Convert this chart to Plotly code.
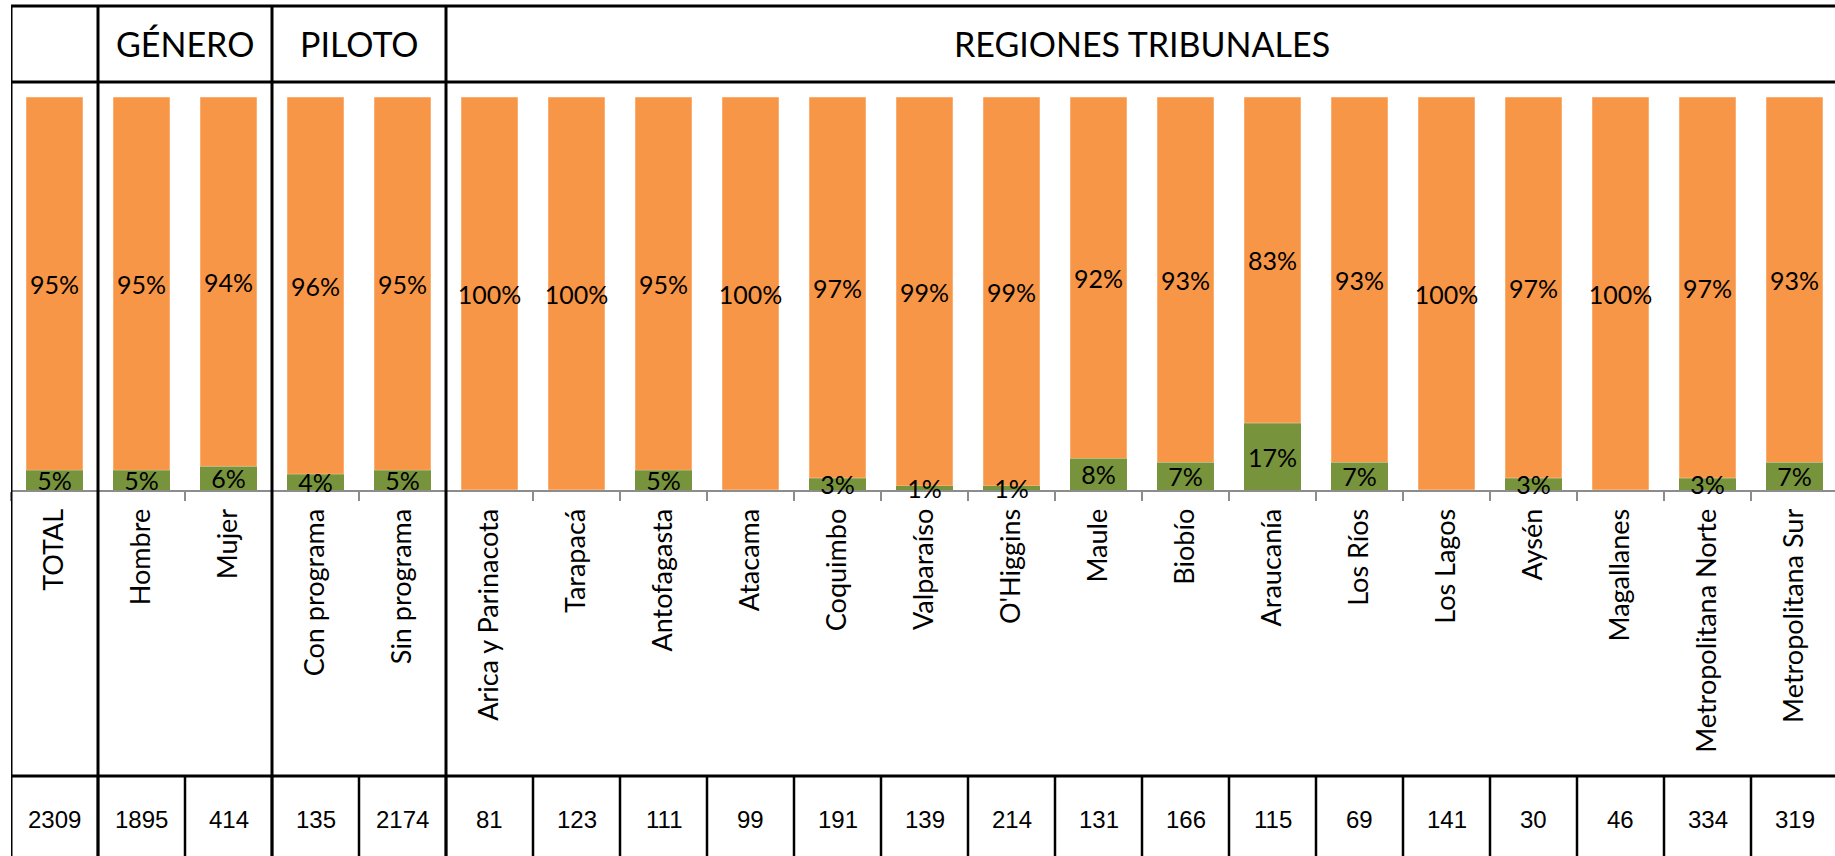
import plotly.graph_objects as go

categories = ["TOTAL", "Hombre", "Mujer", "Con programa", "Sin programa",
              "Arica y Parinacota", "Tarapacá", "Antofagasta", "Atacama", "Coquimbo",
              "Valparaíso", "O'Higgins", "Maule", "Biobío", "Araucanía", "Los Ríos",
              "Los Lagos", "Aysén", "Magallanes", "Metropolitana Norte", "Metropolitana Sur"]
pct_green = [5, 5, 6, 4, 5, 0, 0, 5, 0, 3, 1, 1, 8, 7, 17, 7, 0, 3, 0, 3, 7]
pct_orange = [95, 95, 94, 96, 95, 100, 100, 95, 100, 97, 99, 99, 92, 93, 83, 93, 100, 97, 100, 97, 93]
n_values = [2309, 1895, 414, 135, 2174, 81, 123, 111, 99, 191, 139, 214, 131, 166, 115, 69,
            141, 30, 46, 334, 319]
groups = [("GÉNERO", 1, 2), ("PILOTO", 3, 4), ("REGIONES TRIBUNALES", 5, 20)]

W, H = 1835, 856
TOP, BOT = 97, 490          # plot area in pixels
PH = BOT - TOP
def yp(p):                   # pixel -> paper
    return (BOT - p) / PH

FONT = "Lato"
ORANGE = "#F79646"
GREEN = "#77933C"

fig = go.Figure()
# orange segment stacked on top of the green one (drawn first so green labels stay visible)
fig.add_trace(go.Bar(
    x=categories, y=pct_orange, base=pct_green,
    marker=dict(color=ORANGE, line=dict(color="rgba(255,255,255,0.45)", width=1)),
    text=[f"{v}%" if v > 0 else "" for v in pct_orange],
    textposition="inside", insidetextanchor="middle", textangle=0,
    textfont=dict(family=FONT, size=25, color="black"), cliponaxis=False,
    hoverinfo="skip", showlegend=False))
fig.add_trace(go.Bar(
    x=categories, y=[v if v > 0 else None for v in pct_green],
    marker=dict(color=GREEN, line=dict(width=0)),
    text=[f"{v}%" if v > 0 else "" for v in pct_green],
    textposition="inside", insidetextanchor="middle", textangle=0,
    textfont=dict(family=FONT, size=25, color="black"), cliponaxis=False,
    hoverinfo="skip", showlegend=False))

ncat = len(categories)
step = 87.0
plot_w = W - 11
xr = [-0.5, -0.5 + plot_w / step]

shapes = []
line_main = dict(color="black", width=3)
# horizontal table lines
for p in (6, 82, 776):
    shapes.append(dict(type="line", xref="x", yref="paper", x0=-0.6, x1=ncat, y0=yp(p), y1=yp(p),
                       line=line_main, layer="above"))
# group dividers (full height)
for b in [-0.5] + [g[1] - 0.5 for g in groups]:
    shapes.append(dict(type="line", xref="x", yref="paper", x0=b, x1=b, y0=yp(5), y1=yp(870),
                       line=line_main, layer="above"))
# numbers row dividers
for i in range(ncat - 1):
    b = i + 0.5
    shapes.append(dict(type="line", xref="x", yref="paper", x0=b, x1=b, y0=yp(776), y1=yp(870),
                       line=dict(color="black", width=2.5), layer="above"))

annotations = []
for name, a, b in groups:
    annotations.append(dict(x=(a + b) / 2, y=yp(44), xref="x", yref="paper", text=name,
                            showarrow=False, xanchor="center", yanchor="middle",
                            font=dict(family=FONT, size=34, color="black")))
for i, v in enumerate(n_values):
    annotations.append(dict(x=i, y=yp(819), xref="x", yref="paper", text=str(v),
                            showarrow=False, xanchor="center", yanchor="middle",
                            font=dict(family="Liberation Sans", size=24, color="black")))

fig.update_layout(
    width=W, height=H, barmode="overlay", bargap=0.345,
    margin=dict(l=11, r=0, t=TOP, b=H - BOT, pad=0),
    paper_bgcolor="white", plot_bgcolor="white",
    shapes=shapes, annotations=annotations,
    uniformtext=dict(minsize=25, mode="show"),
    xaxis=dict(type="category", range=xr, showgrid=False, showline=True, linecolor="#8C8C8C",
               linewidth=2, ticks="outside", tickson="boundaries", ticklen=9, tickwidth=2,
               tickcolor="#8C8C8C", tickangle=-90, layer="below traces",
               tickfont=dict(family=FONT, size=27, color="black"), ticklabelstandoff=6),
    yaxis=dict(range=[0, 100], visible=False),
)

fig.write_html("out.html", config={"displayModeBar": False},
               post_script="document.body.style.margin='0';document.body.style.overflow='hidden';")
